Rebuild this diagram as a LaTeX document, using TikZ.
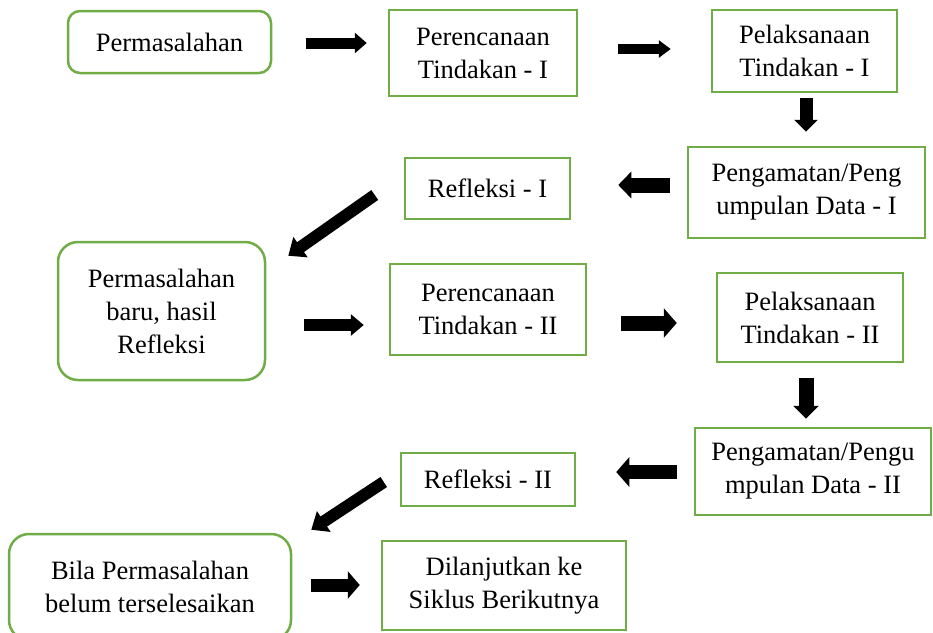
\documentclass[tikz,border=0pt]{standalone}
\usepackage{fontspec}
\setmainfont{Liberation Serif}
\usetikzlibrary{arrows.meta,calc}
\definecolor{boxgreen}{HTML}{70AD47}
\tikzset{
  gbox/.style={draw=boxgreen, line width=2.5pt, fill=white, inner sep=0pt,
    align=center, font=\fontsize{26.5}{33}\selectfont},
  rbox/.style={gbox, rounded corners=#1},
  blk/.style={line width=12pt, black, -{Triangle[length=13pt,width=24pt]}}
}
\begin{document}
\begin{tikzpicture}[x=1pt,y=-1pt]
\path[use as bounding box] (0,0) rectangle (933,632);
\clip (0,0) rectangle (933,632);
% boxes
\node[rbox=12pt, minimum width=203pt, minimum height=62pt] (A) at (169.5,42) {Permasalahan};
\node[gbox, minimum width=188pt, minimum height=86pt] (B) at (483,53) {Perencanaan\\Tindakan - I};
\node[gbox, minimum width=185pt, minimum height=82pt] (C) at (804.5,51) {Pelaksanaan\\Tindakan - I};
\node[gbox, minimum width=237pt, minimum height=91pt] (D) at (806.5,192.5) {Pengamatan/Peng\\umpulan Data - I};
\node[gbox, minimum width=165pt, minimum height=61pt] (E) at (487.5,188.5) {Refleksi - I};
\node[rbox=20pt, minimum width=207pt, minimum height=138pt] (F) at (161.5,311) {Permasalahan\\baru, hasil\\Refleksi};
\node[gbox, minimum width=196pt, minimum height=91pt] (G) at (488,309.5) {Perencanaan\\Tindakan - II};
\node[gbox, minimum width=186pt, minimum height=89pt] (H) at (810,317.5) {Pelaksanaan\\Tindakan - II};
\node[gbox, minimum width=236pt, minimum height=87pt] (I) at (813,471.5) {Pengamatan/Pengu\\mpulan Data - II};
\node[gbox, minimum width=174pt, minimum height=53pt] (J) at (488,479.5) {Refleksi - II};
\node[rbox=20pt, minimum width=282pt, minimum height=106pt] (K) at (150,587) {Bila Permasalahan\\belum terselesaikan};
\node[gbox, minimum width=244pt, minimum height=89pt] (L) at (504,585.5) {Dilanjutkan ke\\Siklus Berikutnya};
% arrows
\draw[blk, line width=11pt, -{Triangle[length=12pt,width=20pt]}, shorten <=34pt, shorten >=21pt]
  ($(A.east)+(0,1)$) -- ($(A.east -| B.west)+(0,1)$);
\draw[blk, line width=10pt, -{Triangle[length=12pt,width=17pt]}, shorten <=40pt, shorten >=40pt]
  ($(B.east)+(0,-4)$) -- ($(B.east -| C.west)+(0,-4)$);
\draw[blk, line width=13pt, -{Triangle[length=12pt,width=23pt]}, shorten <=5pt, shorten >=14pt]
  ($(C.south)+(1.5,0)$) -- ($(C.south |- D.north)+(1.5,0)$);
\draw[blk, line width=15pt, -{Triangle[length=13pt,width=26pt]}, shorten <=17pt, shorten >=47pt]
  ($(D.west)+(0,-7.5)$) -- ($(D.west -| E.east)+(0,-7.5)$);
\draw[blk, line width=12pt, -{Triangle[length=15pt,width=24pt]}]
  ($(E.west)+(-29,6.5)$) -- ($(F.north east)+(22,15)$);
\draw[blk, line width=12pt, -{Triangle[length=13pt,width=21pt]}, shorten <=38pt, shorten >=25pt]
  ($(F.east)+(0,14)$) -- ($(F.east -| G.west)+(0,14)$);
\draw[blk, line width=15pt, -{Triangle[length=13pt,width=29pt]}, shorten <=34pt, shorten >=39pt]
  ($(G.east)+(0,13.5)$) -- ($(G.east -| H.west)+(0,13.5)$);
\draw[blk, line width=15pt, -{Triangle[length=13pt,width=25pt]}, shorten <=15pt, shorten >=8pt]
  ($(H.south)+(-4,0)$) -- ($(H.south |- I.north)+(-4,0)$);
\draw[blk, line width=14pt, -{Triangle[length=13pt,width=29pt]}, shorten <=17pt, shorten >=40pt]
  ($(I.west)+(0,0.5)$) -- ($(I.west -| J.east)+(0,0.5)$);
\draw[blk, line width=12pt, -{Triangle[length=15pt,width=24pt]}]
  ($(J.west)+(-16,2.5)$) -- ($(K.north east)+(19,-3)$);
\draw[blk, line width=13pt, -{Triangle[length=12pt,width=27pt]}, shorten <=19pt, shorten >=21pt]
  ($(K.east)+(0,-2)$) -- ($(K.east -| L.west)+(0,-2)$);
\end{tikzpicture}
\end{document}
